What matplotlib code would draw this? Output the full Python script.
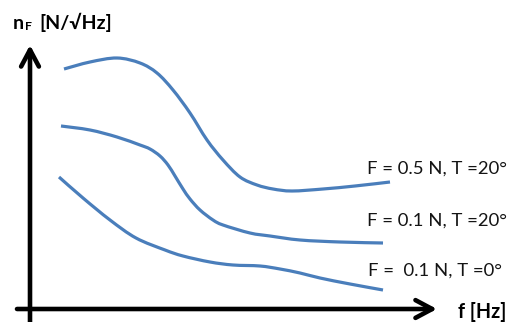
import matplotlib
matplotlib.use("Agg")
import matplotlib.pyplot as plt
from matplotlib.path import Path
from matplotlib.patches import PathPatch

# Frequency axis (arbitrary units) and noise (arbitrary units)
f_a = [34, 60, 87, 110, 127, 143, 160, 177, 193, 210, 227, 243, 262, 293, 325, 360]
n_a = [240, 247, 251, 246, 236, 219, 196, 169, 149, 132, 124, 120, 118, 120, 123, 127]
label_a = "F = 0.5 N, T =20°"

f_b = [31, 60, 87, 110, 120, 130, 138, 145, 153, 160, 170, 183, 193, 220, 240, 270, 310, 353]
n_b = [183, 179, 172, 164, 160, 153, 144, 133, 120, 110, 99, 89, 84, 76, 73, 69, 67, 66]
label_b = "F = 0.1 N, T =20°"

f_c = [29, 53, 80, 106, 135, 153, 180, 203, 230, 250, 270, 290, 320, 353]
n_c = [132, 111, 89, 71, 59, 53, 47, 44, 43, 40, 36, 31, 25, 19]
label_c = "F =  0.1 N, T =0°"

xlabel = "f [Hz]"
ylabel_main = "n"
ylabel_sub = "F"
ylabel_unit = "[N/√Hz]"


def smooth_path(xs, ys):
    """Smoothed line through the given points (Catmull-Rom drawn as cubic Beziers)."""
    pts = list(zip(xs, ys))
    verts = [pts[0]]
    codes = [Path.MOVETO]
    n = len(pts)
    for i in range(n - 1):
        p0 = pts[i - 1] if i > 0 else pts[i]
        p1 = pts[i]
        p2 = pts[i + 1]
        p3 = pts[i + 2] if i + 2 < n else pts[i + 1]
        c1 = (p1[0] + (p2[0] - p0[0]) / 6, p1[1] + (p2[1] - p0[1]) / 6)
        c2 = (p2[0] - (p3[0] - p1[0]) / 6, p2[1] - (p3[1] - p1[1]) / 6)
        verts += [c1, c2, p2]
        codes += [Path.CURVE4] * 3
    return Path(verts, codes)


W, H = 509, 322
fig = plt.figure(figsize=(W / 100, H / 100), dpi=100)
ax = fig.add_axes([0, 0, 1, 1])
ax.set_xlim(-30, W - 30)
ax.set_ylim(309 - H, 309)
ax.axis("off")

blue = "#4A7EBB"
for fx, ny in ((f_a, n_a), (f_b, n_b), (f_c, n_c)):
    ax.add_patch(PathPatch(smooth_path(fx, ny), facecolor="none", edgecolor=blue,
                           lw=2.3, capstyle="butt", joinstyle="round"))

fam = ["Lato", "DejaVu Sans"]
tsize = 13.3
tcol = "#141414"
ax.text(337, 140, label_a, fontsize=tsize, family=fam, va="center", ha="left", color=tcol)
ax.text(337, 88, label_b, fontsize=tsize, family=fam, va="center", ha="left", color=tcol)
ax.text(338, 38, label_c, fontsize=tsize, family=fam, va="center", ha="left", color=tcol)

# axes arrows
arw = dict(arrowstyle="->,head_length=0.6,head_width=0.32", lw=3.3, color="black",
           shrinkA=0, shrinkB=0, mutation_scale=20)
ax.annotate("", xy=(0, 264), xytext=(0, -14), arrowprops=arw)
ax.annotate("", xy=(407, 0), xytext=(-13, 0), arrowprops=arw)

ax.text(428, -3, xlabel, fontsize=14.2, family=fam, fontweight="bold", va="center", ha="left")
ax.text(-17, 280, ylabel_main, fontsize=14, family=fam, fontweight="bold", va="baseline", ha="left")
ax.text(-5, 279, ylabel_sub, fontsize=8.8, family=fam, fontweight="bold", va="baseline", ha="left")
ax.text(9, 280, ylabel_unit, fontsize=14, family=fam, fontweight="bold", va="baseline", ha="left")

fig.savefig("out.png", dpi=100)
